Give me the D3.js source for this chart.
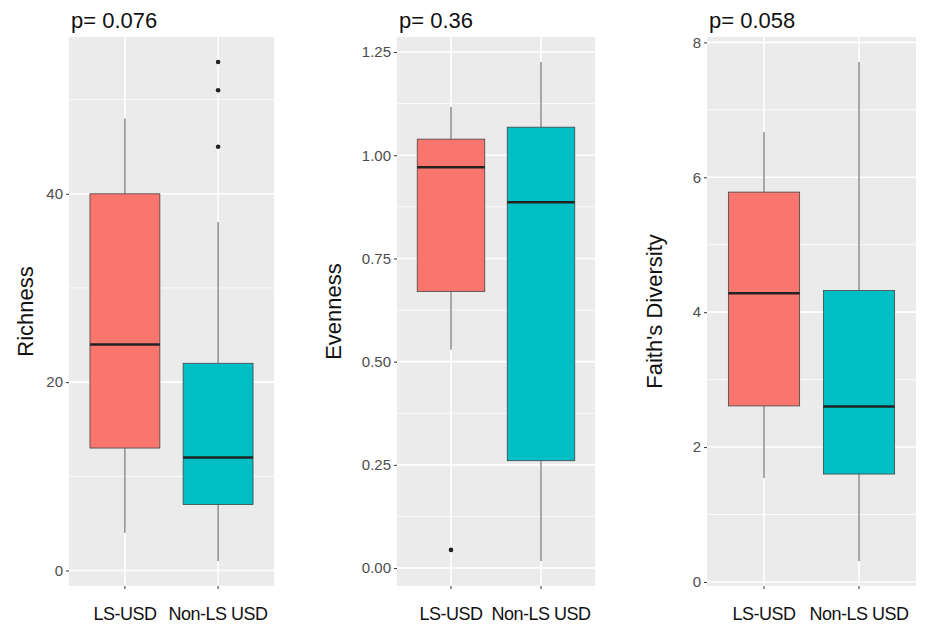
<!DOCTYPE html>
<html>
<head>
<meta charset="utf-8">
<script src="https://cdn.jsdelivr.net/npm/d3@7"></script>
<style>
  body { margin: 0; background: #fff; }
  svg { display: block; font-family: "Liberation Sans", Arial, sans-serif; }
</style>
</head>
<body>
<svg width="928" height="626"></svg>
<script>
const groups = ["LS-USD", "Non-LS USD"];
const colors = ["#F8766D", "#00BFC4"];
const pValues = ["p= 0.076", "p= 0.36", "p= 0.058"];
const yTitles = ["Richness", "Evenness", "Faith's Diversity"];

// five-number summaries: [low whisker, q1, median, q3, high whisker]
const richness = [[4, 13, 24, 40, 48], [1, 7, 12, 22, 37]];
const richnessOutliers = [[], [45, 51, 54]];
const richnessTicks = [0, 20, 40];

const evenness = [[0.529, 0.67, 0.971, 1.039, 1.117], [0.017, 0.26, 0.886, 1.068, 1.226]];
const evennessOutliers = [[0.044], []];
const evennessTicks = [0, 0.25, 0.5, 0.75, 1.0, 1.25];

const faith = [[1.54, 2.61, 4.28, 5.78, 6.67], [0.31, 1.6, 2.6, 4.32, 7.71]];
const faithOutliers = [[], []];
const faithTicks = [0, 2, 4, 6, 8];

const svg = d3.select("svg");

const panels = [
	{ stats: richness, out: richnessOutliers, ticks: richnessTicks, fmt: d3.format("d"),
	  x0: 69, x1: 274, labelX: 25 },
	{ stats: evenness, out: evennessOutliers, ticks: evennessTicks, fmt: d3.format(".2f"),
	  x0: 397, x1: 595, labelX: 333 },
	{ stats: faith, out: faithOutliers, ticks: faithTicks, fmt: d3.format("d"),
	  x0: 707, x1: 916, labelX: 654 }
];

const plotTop = 37, plotBottom = 586;

panels.forEach((p, i) => {
	const g = svg.append("g");

	// ggplot style 5% expansion of the data range
	const all = p.stats.flat().concat(p.out.flat());
	const lo = d3.min(all), hi = d3.max(all);
	const pad = (hi - lo) * 0.05;
	const y = d3.scaleLinear().domain([lo - pad, hi + pad]).range([plotBottom, plotTop]);

	// discrete axis: positions 1..2 inside [0.4, 2.6]
	const x = d3.scaleBand().domain(groups).range([p.x0, p.x1])
		.paddingOuter(0.1).paddingInner(0);
	const cx = (d) => x(d) + x.bandwidth() / 2;
	const bw = x.bandwidth() * 0.75;

	g.append("rect")
		.attr("x", p.x0).attr("y", plotTop)
		.attr("width", p.x1 - p.x0).attr("height", plotBottom - plotTop)
		.attr("fill", "#EBEBEB");

	// minor grid
	const step = p.ticks[1] - p.ticks[0];
	const minor = [];
	for (let k = -1; k <= p.ticks.length; k++) {
		const v = p.ticks[0] + step * (k + 0.5);
		if (y(v) >= plotTop && y(v) <= plotBottom) minor.push(v);
	}
	g.selectAll(".minor").data(minor).join("line")
		.attr("x1", p.x0).attr("x2", p.x1)
		.attr("y1", (d) => y(d)).attr("y2", (d) => y(d))
		.attr("stroke", "#fff").attr("stroke-width", 0.8);

	g.selectAll(".major").data(p.ticks).join("line")
		.attr("x1", p.x0).attr("x2", p.x1)
		.attr("y1", (d) => y(d)).attr("y2", (d) => y(d))
		.attr("stroke", "#fff").attr("stroke-width", 1.6);

	g.selectAll(".vgrid").data(groups).join("line")
		.attr("x1", cx).attr("x2", cx)
		.attr("y1", plotTop).attr("y2", plotBottom)
		.attr("stroke", "#fff").attr("stroke-width", 1.6);

	// axes
	const yAxis = d3.axisLeft(y).tickValues(p.ticks).tickFormat(p.fmt)
		.tickSize(3).tickPadding(3);
	const ya = g.append("g").attr("transform", `translate(${p.x0},0)`).call(yAxis);
	ya.select(".domain").remove();
	ya.selectAll("line").attr("stroke", "#333");
	ya.selectAll("text").attr("fill", "#4D4D4D").attr("font-size", 15);

	const xAxis = d3.axisBottom(x).tickSize(3).tickPadding(18);
	const xa = g.append("g").attr("transform", `translate(0,${plotBottom})`).call(xAxis);
	xa.select(".domain").remove();
	xa.selectAll("line").attr("stroke", "#333");
	xa.selectAll("text").attr("fill", "#111").attr("font-size", 18)
		.attr("letter-spacing", -0.5);

	// boxes
	groups.forEach((grp, j) => {
		const [wl, q1, med, q3, wh] = p.stats[j];
		const c = cx(grp);
		g.append("line").attr("x1", c).attr("x2", c)
			.attr("y1", y(q3)).attr("y2", y(wh))
			.attr("stroke", "#555").attr("stroke-width", 1);
		g.append("line").attr("x1", c).attr("x2", c)
			.attr("y1", y(q1)).attr("y2", y(wl))
			.attr("stroke", "#555").attr("stroke-width", 1);
		g.append("rect")
			.attr("x", c - bw / 2).attr("y", y(q3))
			.attr("width", bw).attr("height", y(q1) - y(q3))
			.attr("fill", colors[j]).attr("stroke", "#444").attr("stroke-width", 0.8);
		g.append("line").attr("x1", c - bw / 2).attr("x2", c + bw / 2)
			.attr("y1", y(med)).attr("y2", y(med))
			.attr("stroke", "#222").attr("stroke-width", 2.5);
		g.selectAll(null).data(p.out[j]).join("circle")
			.attr("cx", c).attr("cy", (d) => y(d)).attr("r", 2.3)
			.attr("fill", "#222");
	});

	// titles
	svg.append("text")
		.attr("x", p.x0 + 2).attr("y", 28)
		.attr("font-size", 22).attr("fill", "#111")
		.text(pValues[i]);

	svg.append("text")
		.attr("transform", `translate(${p.labelX + 8},${(plotTop + plotBottom) / 2}) rotate(-90)`)
		.attr("text-anchor", "middle")
		.attr("font-size", 22).attr("fill", "#111")
		.text(yTitles[i]);
});
</script>
</body>
</html>
